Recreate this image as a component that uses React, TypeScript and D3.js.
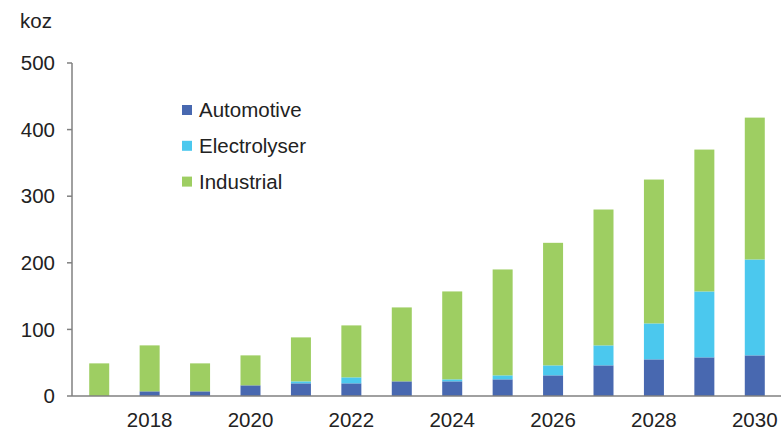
import React from "react";
import * as d3 from "d3";

const years = [2017, 2018, 2019, 2020, 2021, 2022, 2023, 2024, 2025, 2026, 2027, 2028, 2029, 2030];
const automotive = [0, 7, 7, 16, 19, 19, 22, 22, 25, 31, 46, 55, 58, 61];
const electrolyser = [0, 0, 0, 0, 3, 9, 0, 3, 6, 15, 30, 54, 99, 144];
const industrial = [49, 69, 42, 45, 66, 78, 111, 132, 159, 184, 204, 216, 213, 213];
const seriesNames = ["Automotive", "Electrolyser", "Industrial"];
const seriesColors = ["#4868B0", "#4BC8EE", "#9ECE62"];
const yTicks = [0, 100, 200, 300, 400, 500];
const xTickYears = [2018, 2020, 2022, 2024, 2026, 2028, 2030];

const W = 781;
const H = 432;
const FONT = "'Liberation Sans', Arial, sans-serif";

export default function App() {
  const x = d3.scaleBand<number>().domain(years).range([74, 780]).paddingInner(0.6).paddingOuter(0.3);
  const y = d3.scaleLinear().domain([0, 500]).range([396, 63]);

  const rows = years.map((yr, i) => ({
    year: yr,
    Automotive: automotive[i],
    Electrolyser: electrolyser[i],
    Industrial: industrial[i],
  }));
  const stacked = d3.stack<any>().keys(seriesNames)(rows);

  const axisX = 72;
  const baseY = y(0);

  return (
    <svg width={W} height={H} style={{ position: "absolute", left: 0, top: 0, background: "#fff" }}
      fontFamily={FONT}>
      <rect x={0} y={0} width={W} height={H} fill="#fff" />
      {stacked.map((s, si) => (
        <g key={s.key} fill={seriesColors[si]}>
          {s.map((d, i) => {
            const h = y(d[0]) - y(d[1]);
            if (h <= 0) return null;
            const bw = 20;
            const cx = (x(years[i]) as number) + x.bandwidth() / 2;
            return <rect key={i} x={cx - bw / 2} y={y(d[1])} width={bw} height={h} />;
          })}
        </g>
      ))}
      {/* y axis */}
      <line x1={axisX} x2={axisX} y1={y(500)} y2={baseY} stroke="#808080" strokeWidth={1.5} />
      {yTicks.map((t) => (
        <g key={t}>
          <line x1={axisX - 5} x2={axisX} y1={y(t)} y2={y(t)} stroke="#808080" strokeWidth={1.5} />
          <text x={55} y={y(t)} dy="0.35em" textAnchor="end" fontSize={20.5} fill="#222">{t}</text>
        </g>
      ))}
      {/* x axis */}
      <line x1={axisX} x2={W} y1={baseY} y2={baseY} stroke="#808080" strokeWidth={1.5} />
      {xTickYears.map((yr) => (
        <text key={yr} x={(x(yr) as number) + x.bandwidth() / 2} y={427} textAnchor="middle" fontSize={20.5} fill="#222">{yr}</text>
      ))}
      <text x={20} y={28} fontSize={20.5} fill="#222">koz</text>
      {/* legend */}
      {seriesNames.map((n, i) => (
        <g key={n} transform={`translate(182, ${110 + i * 35.8})`}>
          <rect x={0} y={-5} width={10} height={10} fill={seriesColors[i]} />
          <text x={17} y={0} dy="0.35em" fontSize={20.5} fill="#222">{n}</text>
        </g>
      ))}
    </svg>
  );
}
